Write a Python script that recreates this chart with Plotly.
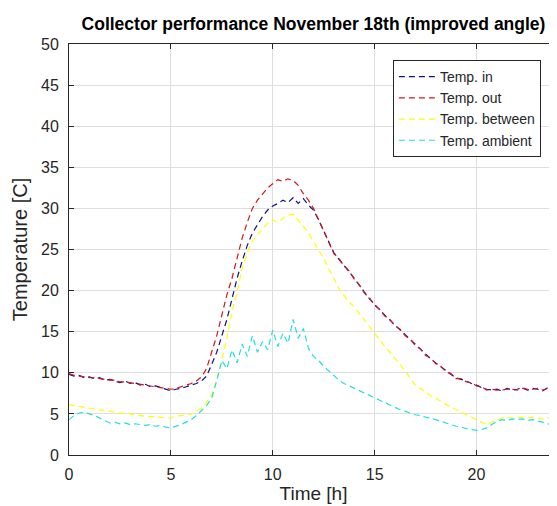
import plotly.graph_objects as go

# Time axis [h], 15-minute samples
time_h = [0, 0.25, 0.5, 0.75, 1, 1.25, 1.5, 1.75, 2, 2.25, 2.5, 2.75, 3, 3.25, 3.5, 3.75,
          4, 4.25, 4.5, 4.75, 5, 5.25, 5.5, 5.75, 6, 6.25, 6.5, 6.75, 7, 7.25, 7.5, 7.75,
          8, 8.25, 8.5, 8.75, 9, 9.25, 9.5, 9.75, 10, 10.25, 10.5, 10.75, 11, 11.25, 11.5, 11.75,
          12, 12.25, 12.5, 12.75, 13, 13.25, 13.5, 13.75, 14, 14.25, 14.5, 14.75, 15, 15.25, 15.5, 15.75,
          16, 16.25, 16.5, 16.75, 17, 17.25, 17.5, 17.75, 18, 18.25, 18.5, 18.75, 19, 19.25, 19.5, 19.75,
          20, 20.25, 20.5, 20.75, 21, 21.25, 21.5, 21.75, 22, 22.25, 22.5, 22.75, 23, 23.25, 23.5, 23.75, 24]

temp_in = [9.8, 9.6, 9.7, 9.4, 9.5, 9.3, 9.4, 9.1, 9.2, 9.0, 8.8, 9.0, 8.7, 8.8, 8.5, 8.6,
           8.3, 8.4, 8.2, 8.0, 7.8, 8.0, 8.1, 8.3, 8.5, 8.7, 9.0, 9.6, 11.0, 12.5, 14.5, 16.5,
           19.0, 21.5, 23.6, 25.5, 27.0, 28.0, 29.0, 29.8, 30.3, 30.6, 31.0, 30.7, 31.3, 30.6, 31.2, 30.4,
           29.8, 28.6, 27.3, 25.9, 24.6, 23.8, 23.1, 22.3, 21.5, 20.6, 19.8, 19.0, 18.3, 17.6, 17.0, 16.4,
           15.8, 15.2, 14.6, 14.0, 13.4, 12.8, 12.2, 11.7, 11.2, 10.7, 10.2, 9.8, 9.4, 9.2, 9.0, 8.7,
           8.5, 8.2, 8.0, 7.9, 8.0, 7.8, 8.1, 7.9, 8.0, 8.2, 7.9, 8.1, 8.0, 7.8, 8.2, 7.9, 8.0]

temp_out = [9.9, 9.7, 9.6, 9.5, 9.4, 9.4, 9.3, 9.2, 9.1, 9.1, 8.9, 8.9, 8.8, 8.7, 8.6, 8.5,
            8.4, 8.3, 8.2, 8.1, 8.0, 8.1, 8.3, 8.5, 8.7, 9.0, 9.5, 10.5, 12.6, 14.5, 17.0, 19.5,
            21.5, 24.0, 26.4, 28.3, 30.0, 31.0, 31.8, 32.5, 33.0, 33.5, 33.3, 33.6, 33.4, 32.8, 31.8, 31.0,
            30.0, 28.6, 27.2, 25.8, 24.5, 23.9, 23.0, 22.4, 21.4, 20.7, 19.7, 19.1, 18.2, 17.7, 16.9, 16.5,
            15.7, 15.3, 14.5, 14.1, 13.3, 12.9, 12.1, 11.8, 11.1, 10.8, 10.1, 9.9, 9.3, 9.3, 8.9, 8.8,
            8.4, 8.3, 7.9, 8.0, 7.9, 7.9, 8.0, 8.0, 7.9, 8.1, 8.0, 8.0, 8.1, 7.9, 8.1, 8.0, 7.9]

temp_between = [6.1, 6.0, 5.9, 5.8, 5.7, 5.6, 5.5, 5.4, 5.3, 5.2, 5.1, 5.0, 5.0, 4.9, 4.8, 4.7,
                4.7, 4.6, 4.6, 4.5, 4.5, 4.7, 4.8, 4.9, 5.0, 5.3, 5.7, 6.4, 7.3, 9.2, 11.5, 14.2,
                17.5, 19.8, 22.8, 24.6, 26.0, 26.8, 27.5, 28.2, 28.6, 28.3, 28.8, 29.2, 29.3, 28.6, 27.8, 27.0,
                26.0, 25.0, 23.9, 22.6, 21.5, 20.2, 19.4, 18.6, 18.0, 17.2, 16.3, 15.6, 14.8, 14.0, 13.2, 12.5,
                11.8, 11.0, 10.2, 9.3, 8.5, 8.1, 7.6, 7.2, 6.9, 6.5, 6.2, 5.8, 5.5, 5.2, 4.9, 4.6,
                4.3, 4.0, 3.7, 4.0, 4.3, 4.5, 4.6, 4.5, 4.5, 4.6, 4.5, 4.6, 4.5, 4.4, 4.5, 4.3, 4.1]

temp_ambient = [4.3, 4.8, 5.1, 5.2, 5.0, 4.8, 4.5, 4.2, 3.9, 4.0, 3.8, 3.9, 3.7, 3.8, 3.7, 3.6,
                3.7, 3.5, 3.6, 3.4, 3.3, 3.5, 3.7, 4.0, 4.3, 4.8, 5.4, 6.0, 6.9, 9.0, 11.5, 10.5,
                12.8, 11.2, 13.5, 12.0, 14.5, 12.5, 13.8, 12.8, 15.2, 13.2, 14.8, 13.6, 16.5, 14.2, 15.4, 13.0,
                12.0, 11.5, 10.8, 10.2, 9.6, 9.1, 8.7, 8.4, 8.1, 7.8, 7.5, 7.2, 6.9, 6.6, 6.3, 6.0,
                5.7, 5.5, 5.3, 5.1, 4.9, 4.8, 4.6, 4.5, 4.3, 4.1, 3.9, 3.7, 3.5, 3.4, 3.2, 3.1,
                3.0, 3.1, 3.3, 3.7, 4.1, 4.3, 4.2, 4.4, 4.3, 4.4, 4.2, 4.3, 4.1, 4.0, 3.8, 3.6, 3.3]

series_names = ["Temp. in", "Temp. out", "Temp. between", "Temp. ambient"]
series_colors = ["#10108a", "#d01a1a", "#ffff00", "#22e0e0"]
x_ticks = [0, 5, 10, 15, 20]
y_ticks = [0, 5, 10, 15, 20, 25, 30, 35, 40, 45, 50]

FONT = "Liberation Sans, Arial, sans-serif"
TXT = "#262626"

fig = go.Figure()
for name, vals, col in zip(series_names, [temp_in, temp_out, temp_between, temp_ambient], series_colors):
    fig.add_trace(go.Scatter(x=time_h, y=vals, mode="lines", name=name,
                             line=dict(color=col, width=1.2, dash="6px,4px")))

axis_common = dict(showline=True, linecolor=TXT, linewidth=1, mirror="ticks",
                   ticks="inside", ticklen=5, tickcolor=TXT, showgrid=True,
                   gridcolor="#dedede", gridwidth=1, zeroline=False,
                   tickfont=dict(family=FONT, size=16, color=TXT))

fig.update_xaxes(range=[0, 24], tickvals=x_ticks, ticklabelstandoff=5,
                 title=dict(text="Time [h]", font=dict(family=FONT, size=19, color=TXT), standoff=2),
                 **axis_common)
fig.update_yaxes(range=[0, 50], tickvals=y_ticks, ticklabelstandoff=6,
                 title=dict(text="Temperature [C]", font=dict(family=FONT, size=20, color=TXT), standoff=8),
                 **axis_common)

fig.update_layout(
    width=557, height=506,
    margin=dict(l=61, r=7, t=36, b=59),
    paper_bgcolor="white", plot_bgcolor="white",
    title=dict(text="<b>Collector performance November 18th (improved angle)</b>",
               font=dict(family=FONT, size=17.5, color="black"),
               x=0.5, xref="paper", xanchor="center", y=1 - 16 / 506, yanchor="middle"),
    legend=dict(x=0.965, xanchor="right", y=0.961, yanchor="top",
                bordercolor=TXT, borderwidth=1, bgcolor="white",
                font=dict(family=FONT, size=14, color=TXT),
                itemwidth=36, tracegroupgap=0),
    showlegend=True,
)

fig.write_html("out.html")
